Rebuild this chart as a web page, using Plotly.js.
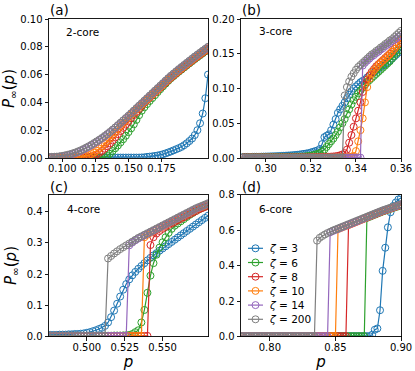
<!DOCTYPE html>
<html><head><meta charset="utf-8">
<script src="https://cdn.plot.ly/plotly-3.0.1.min.js"></script>
<style>html,body{margin:0;padding:0;background:#fff}#chart{width:415px;height:371px}</style>
</head><body><div id="chart"></div>
<script>
// ---- series meta ----
const zetas = [3, 6, 8, 10, 14, 200];
const colors = ['#1f77b4', '#2ca02c', '#d62728', '#ff7f0e', '#9467bd', '#7f7f7f'];
const panelLetters = ['(a)', '(b)', '(c)', '(d)'];
const coreLabels = ['2-core', '3-core', '4-core', '6-core'];

// ---- panel (a) 2-core ----
const pA = [0.090,0.092,0.094,0.096,0.098,0.100,0.102,0.104,0.106,0.108,
 0.110,0.112,0.114,0.116,0.118,0.120,0.122,0.124,0.126,0.128,
 0.130,0.132,0.134,0.136,0.138,0.140,0.142,0.144,0.146,0.148,
 0.150,0.152,0.154,0.156,0.158,0.160,0.162,0.164,0.166,0.168,
 0.170,0.172,0.174,0.176,0.178,0.180,0.182,0.184,0.186,0.188,
 0.190,0.192,0.194,0.196,0.198,0.200,0.202,0.204,0.206,0.208,0.210];
const a3 = [0.0003,0.0003,0.0003,0.0003,0.0003,0.0003,0.0003,0.0003,0.0003,0.0003,
 0.0003,0.0003,0.0003,0.0003,0.0003,0.0003,0.0003,0.0003,0.0003,0.0003,
 0.0003,0.0003,0.0003,0.0003,0.0003,0.0003,0.0003,0.0003,0.0003,0.0003,
 0.0003,0.0003,0.0003,0.0003,0.0003,0.0004,0.0005,0.0008,0.0010,0.0012,
 0.0015,0.0018,0.0022,0.0027,0.0033,0.0040,0.0047,0.0055,0.0063,0.0071,
 0.0080,0.0092,0.0106,0.0122,0.0140,0.0165,0.0200,0.0250,0.0320,0.0430,0.0600];
const a6 = [0.0002,0.0002,0.0002,0.0002,0.0002,0.0002,0.0002,0.0002,0.0002,0.0002,
 0.0002,0.0002,0.0002,0.0002,0.0002,0.0002,0.0002,0.0002,0.0002,0.0002,
 0.0002,0.0006,0.0015,0.0030,0.0050,0.0070,0.0090,0.0112,0.0135,0.0160,
 0.0186,0.0213,0.0242,0.0274,0.0308,0.0340,0.0365,0.0388,0.0410,0.0431,
 0.0452,0.0474,0.0495,0.0515,0.0535,0.0555,0.0573,0.0589,0.0605,0.0621,
 0.0636,0.0651,0.0666,0.0681,0.0696,0.0711,0.0725,0.0739,0.0753,0.0767,0.0781];
const a8 = [0.0002,
 0.0002,0.0002,0.0002,0.0002,0.0002,0.0002,0.0002,0.0003,0.0003,0.0003,
 0.0003,0.0003,0.0004,0.0005,0.0007,0.0010,0.0016,0.0025,0.0037,0.0051,
 0.0067,0.0085,0.0105,0.0126,0.0148,0.0171,0.0194,0.0217,0.0240,0.0263,
 0.0286,0.0309,0.0331,0.0352,0.0373,0.0398,0.0416,0.0434,0.0452,0.0470,
 0.0488,0.0506,0.0524,0.0542,0.0560,0.0577,0.0593,0.0609,0.0625,0.0640,
 0.0655,0.0670,0.0685,0.0700,0.0715,0.0729,0.0743,0.0757,0.0771,0.0785];
const a10 = [0.0003,
 0.0003,0.0003,0.0003,0.0003,0.0004,0.0004,0.0004,0.0005,0.0005,0.0006,
 0.0007,0.0008,0.0010,0.0014,0.0020,0.0028,0.0039,0.0052,0.0067,0.0084,
 0.0102,0.0121,0.0141,0.0162,0.0184,0.0206,0.0228,0.0250,0.0271,0.0292,
 0.0313,0.0331,0.0349,0.0367,0.0385,0.0403,0.0421,0.0439,0.0457,0.0475,
 0.0493,0.0511,0.0529,0.0547,0.0565,0.0582,0.0598,0.0614,0.0630,0.0645,
 0.0660,0.0675,0.0690,0.0705,0.0720,0.0734,0.0748,0.0762,0.0776,0.0790];
const a14 = [0.0005,
 0.0006,0.0007,0.0008,0.0010,0.0012,0.0015,0.0019,0.0024,0.0029,0.0035,
 0.0043,0.0051,0.0060,0.0070,0.0080,0.0091,0.0103,0.0115,0.0128,0.0141,
 0.0155,0.0170,0.0185,0.0201,0.0217,0.0234,0.0251,0.0268,0.0285,0.0302,
 0.0320,0.0338,0.0356,0.0374,0.0392,0.0410,0.0428,0.0446,0.0464,0.0482,
 0.0500,0.0518,0.0536,0.0554,0.0572,0.0589,0.0605,0.0621,0.0637,0.0652,
 0.0667,0.0682,0.0697,0.0712,0.0727,0.0741,0.0755,0.0769,0.0783,0.0797];
const a200 = [0.0007,
 0.0008,0.0009,0.0010,0.0012,0.0015,0.0019,0.0023,0.0028,0.0034,0.0040,
 0.0048,0.0056,0.0065,0.0075,0.0085,0.0096,0.0108,0.0120,0.0132,0.0145,
 0.0159,0.0173,0.0188,0.0204,0.0220,0.0237,0.0254,0.0271,0.0288,0.0305,
 0.0323,0.0341,0.0359,0.0377,0.0395,0.0413,0.0431,0.0449,0.0467,0.0485,
 0.0503,0.0521,0.0539,0.0557,0.0575,0.0592,0.0608,0.0624,0.0640,0.0655,
 0.0670,0.0685,0.0700,0.0715,0.0730,0.0744,0.0758,0.0772,0.0786,0.0800];

// ---- panel (b) 3-core ----
const pB = [0.290,0.291,0.292,0.293,0.294,0.295,0.296,0.297,0.298,0.299,
 0.300,0.301,0.302,0.303,0.304,0.305,0.306,0.307,0.308,0.309,
 0.310,0.311,0.312,0.313,0.314,0.315,0.316,0.317,0.318,0.319,
 0.320,0.321,0.322,0.323,0.324,0.325,0.326,0.327,0.328,0.329,
 0.330,0.331,0.332,0.333,0.334,0.335,0.336,0.337,0.338,0.339,
 0.340,0.341,0.342,0.343,0.344,0.345,0.346,0.347,0.348,0.349,
 0.350,0.351,0.352,0.353,0.354,0.355,0.356,0.357,0.358,0.359,0.360];
const b3 = [0.0015,0.0015,0.0016,0.0016,0.0017,0.0017,0.0018,0.0018,0.0019,0.0020,
 0.0021,0.0022,0.0023,0.0024,0.0025,0.0026,0.0028,0.0030,0.0032,0.0034,
 0.0036,0.0038,0.0040,0.0043,0.0046,0.0050,0.0055,0.0060,0.0065,0.0070,
 0.0080,0.0090,0.0100,0.0110,0.0130,0.0200,0.0300,0.0320,0.0340,0.0400,
 0.0480,0.0560,0.0650,0.0700,0.0750,0.0800,0.0860,0.0910,0.0960,0.1000,
 0.1030,0.1060,0.1090,0.1110,0.1130,0.1160,0.1180,0.1210,0.1230,0.1260,
 0.1280,0.1310,0.1330,0.1350,0.1380,0.1400,0.1430,0.1460,0.1490,0.1520,0.1550];
const b6 = [0.0010,0.0010,0.0010,0.0011,0.0011,0.0011,0.0012,0.0012,0.0012,0.0013,
 0.0013,0.0013,0.0014,0.0014,0.0014,0.0015,0.0015,0.0016,0.0016,0.0017,
 0.0017,0.0018,0.0018,0.0019,0.0019,0.0020,0.0020,0.0020,0.0025,0.0030,
 0.0035,0.0040,0.0050,0.0060,0.0070,0.0090,0.0120,0.0160,0.0200,0.0240,
 0.0280,0.0330,0.0380,0.0440,0.0500,0.0560,0.0630,0.0700,0.0770,0.0830,
 0.0880,0.0930,0.0970,0.1010,0.1050,0.1090,0.1120,0.1150,0.1180,0.1210,
 0.1240,0.1270,0.1300,0.1330,0.1360,0.1390,0.1430,0.1470,0.1510,0.1550,0.1600];
const b8 = [0.0008,0.0008,0.0008,0.0008,0.0008,0.0008,0.0008,0.0008,0.0008,0.0008,
 0.0008,0.0008,0.0008,0.0008,0.0008,0.0008,0.0008,0.0008,0.0008,0.0008,
 0.0009,0.0009,0.0009,0.0009,0.0009,0.0009,0.0009,0.0009,0.0009,0.0009,
 0.0010,0.0011,0.0012,0.0013,0.0014,0.0015,0.0016,0.0017,0.0018,0.0020,
 0.0022,0.0025,0.0030,0.0040,0.0050,0.0070,0.0120,0.0220,0.0330,0.0450,
 0.0570,0.0680,0.0800,0.0950,0.1060,0.1130,0.1190,0.1240,0.1280,0.1320,
 0.1350,0.1380,0.1410,0.1440,0.1470,0.1500,0.1530,0.1570,0.1610,0.1650,0.1690];
const b10 = [0.0006,0.0006,0.0006,0.0006,0.0006,0.0006,0.0006,0.0006,0.0006,0.0006,
 0.0006,0.0006,0.0006,0.0006,0.0006,0.0006,0.0006,0.0006,0.0006,0.0006,
 0.0006,0.0006,0.0006,0.0006,0.0006,0.0006,0.0006,0.0006,0.0006,0.0006,
 0.0007,0.0007,0.0007,0.0007,0.0007,0.0007,0.0007,0.0007,0.0007,0.0007,
 0.0008,0.0008,0.0009,0.0009,0.0010,0.0010,0.0010,0.0012,0.0020,0.0030,
 0.0100,0.0240,0.0400,0.0570,0.0800,0.1020,0.1140,0.1210,0.1260,0.1300,
 0.1340,0.1370,0.1400,0.1430,0.1460,0.1490,0.1530,0.1570,0.1610,0.1650,0.1700];
const b14 = [0.0005,0.0005,0.0005,0.0005,0.0005,0.0005,0.0005,0.0005,0.0005,0.0005,
 0.0005,0.0005,0.0005,0.0005,0.0005,0.0005,0.0005,0.0005,0.0005,0.0005,
 0.0005,0.0005,0.0005,0.0005,0.0005,0.0005,0.0005,0.0005,0.0005,0.0005,
 0.0005,0.0005,0.0005,0.0005,0.0005,0.0005,0.0005,0.0005,0.0005,0.0005,
 0.0006,0.0006,0.0006,0.0006,0.0006,0.0006,0.0006,0.0006,0.0006,0.0006,
 0.0006,0.0006,0.0006,0.1330,0.1370,0.1400,0.1430,0.1460,0.1480,0.1510,
 0.1530,0.1560,0.1580,0.1610,0.1630,0.1650,0.1680,0.1700,0.1720,0.1750,0.1770];
const b200 = [0.0005,0.0005,0.0005,0.0005,0.0005,0.0005,0.0005,0.0005,0.0005,0.0005,
 0.0005,0.0005,0.0005,0.0005,0.0005,0.0005,0.0005,0.0005,0.0005,0.0005,
 0.0005,0.0005,0.0005,0.0005,0.0005,0.0005,0.0005,0.0005,0.0005,0.0005,
 0.0005,0.0005,0.0005,0.0005,0.0005,0.0006,0.0006,0.0006,0.0006,0.0006,
 0.0006,0.0006,0.0006,0.0006,0.0006,0.0900,0.1020,0.1100,0.1170,0.1220,
 0.1270,0.1310,0.1340,0.1370,0.1400,0.1430,0.1460,0.1490,0.1510,0.1540,
 0.1560,0.1590,0.1610,0.1640,0.1660,0.1690,0.1710,0.1740,0.1770,0.1800,0.1830];

// ---- panel (c) 4-core ----
const pC = [0.474,0.476,0.478,0.480,0.482,0.484,0.486,0.488,0.490,0.492,
 0.494,0.496,0.498,0.500,0.502,0.504,0.506,0.508,0.510,0.512,
 0.514,0.516,0.518,0.520,0.522,0.524,0.526,0.528,0.530,0.532,
 0.534,0.536,0.538,0.540,0.542,0.544,0.546,0.548,0.550,0.552,
 0.554,0.556,0.558,0.560,0.562,0.564,0.566,0.568,0.570,0.572,
 0.574,0.576,0.578,0.580];
const c3 = [0.005,0.005,0.005,0.005,0.006,0.006,0.006,0.007,0.007,0.008,
 0.008,0.009,0.010,0.012,0.014,0.017,0.020,0.024,0.028,0.034,
 0.045,0.062,0.083,0.105,0.128,0.150,0.168,0.183,0.196,0.207,
 0.217,0.226,0.235,0.244,0.252,0.260,0.267,0.275,0.282,0.289,
 0.296,0.303,0.310,0.317,0.324,0.331,0.338,0.345,0.352,0.359,
 0.366,0.373,0.380,0.387];
const c6 = [0.001,0.001,0.001,0.001,0.001,0.001,0.001,0.001,0.001,0.001,
 0.0015,0.0015,0.0015,0.0015,0.0015,0.002,0.002,0.002,0.002,0.002,
 0.0025,0.0025,0.003,0.003,0.003,0.0035,0.004,0.005,0.008,0.014,
 0.020,0.045,0.085,0.140,0.195,0.235,0.262,0.285,0.302,0.318,
 0.332,0.345,0.355,0.362,0.369,0.376,0.383,0.390,0.396,0.402,
 0.407,0.412,0.416,0.420];
const c8 = [0.002,0.002,0.002,0.002,0.002,0.002,0.002,0.002,0.002,0.002,
 0.002,0.002,0.002,0.002,0.002,0.002,0.002,0.002,0.002,0.002,
 0.002,0.002,0.002,0.002,0.002,0.002,0.002,0.002,0.002,0.002,
 0.002,0.002,0.002,0.002,0.293,0.318,0.330,0.338,0.345,0.351,
 0.357,0.362,0.367,0.372,0.377,0.382,0.387,0.392,0.397,0.402,
 0.407,0.411,0.415,0.419];
const c10 = [0.002,0.002,0.002,0.002,0.002,0.002,0.002,0.002,0.002,0.002,
 0.002,0.002,0.002,0.002,0.002,0.002,0.002,0.002,0.002,0.002,
 0.002,0.002,0.002,0.002,0.002,0.002,0.002,0.002,0.002,0.002,
 0.002,0.002,0.318,0.326,0.332,0.338,0.343,0.348,0.353,0.358,
 0.363,0.368,0.373,0.378,0.383,0.388,0.393,0.398,0.403,0.408,
 0.412,0.416,0.420,0.424];
const c14 = [0.002,0.002,0.002,0.002,0.002,0.002,0.002,0.002,0.002,0.002,
 0.002,0.002,0.002,0.002,0.002,0.002,0.002,0.002,0.002,0.002,
 0.002,0.002,0.002,0.002,0.002,0.002,0.002,0.292,0.301,0.308,
 0.314,0.319,0.324,0.329,0.334,0.339,0.344,0.349,0.354,0.359,
 0.364,0.369,0.374,0.379,0.384,0.389,0.394,0.399,0.404,0.409,
 0.413,0.417,0.421,0.425];
const c200 = [0.003,0.003,0.003,0.003,0.003,0.003,0.003,0.003,0.003,0.003,
 0.003,0.003,0.003,0.003,0.003,0.003,0.003,0.003,0.003,0.003,
 0.250,0.258,0.266,0.273,0.280,0.286,0.292,0.298,0.304,0.310,
 0.316,0.321,0.326,0.331,0.336,0.341,0.346,0.351,0.356,0.361,
 0.366,0.371,0.376,0.381,0.386,0.391,0.396,0.401,0.406,0.411,
 0.415,0.419,0.423,0.427];

// ---- panel (d) 6-core ----
const pD = [0.778,0.780,0.782,0.784,0.786,0.788,0.790,0.792,0.794,0.796,
 0.798,0.800,0.802,0.804,0.806,0.808,0.810,0.812,0.814,0.816,
 0.818,0.820,0.822,0.824,0.826,0.828,0.830,0.832,0.834,0.836,
 0.838,0.840,0.842,0.844,0.846,0.848,0.850,0.852,0.854,0.856,
 0.858,0.860,0.862,0.864,0.866,0.868,0.870,0.872,0.874,0.876,
 0.878,0.880,0.882,0.884,0.886,0.888,0.890,0.892,0.894,0.896,
 0.898,0.900];
const d3 = [0.002,0.002,0.002,0.002,0.002,0.002,0.002,0.002,0.002,0.002,
 0.002,0.002,0.002,0.002,0.002,0.002,0.002,0.002,0.002,0.002,
 0.002,0.002,0.002,0.002,0.002,0.002,0.002,0.002,0.002,0.002,
 0.002,0.002,0.002,0.002,0.002,0.002,0.002,0.002,0.002,0.002,
 0.002,0.002,0.002,0.002,0.002,0.002,0.002,0.002,0.002,0.002,
 0.010,0.038,0.045,0.148,0.370,0.500,0.615,0.700,0.735,0.755,
 0.772,0.780];
const d6 = [0.002,0.002,0.002,0.002,0.002,0.002,0.002,0.002,0.002,0.002,
 0.002,0.002,0.002,0.002,0.002,0.002,0.002,0.002,0.002,0.002,
 0.002,0.002,0.002,0.002,0.002,0.002,0.002,0.002,0.002,0.002,
 0.002,0.002,0.002,0.002,0.002,0.002,0.002,0.002,0.002,0.002,
 0.002,0.002,0.002,0.002,0.002,0.002,0.002,0.002,0.668,0.674,
 0.680,0.686,0.692,0.698,0.704,0.709,0.714,0.719,0.724,0.729,
 0.734,0.739];
const d8 = [0.002,0.002,0.002,0.002,0.002,0.002,0.002,0.002,0.002,0.002,
 0.002,0.002,0.002,0.002,0.002,0.002,0.002,0.002,0.002,0.002,
 0.002,0.002,0.002,0.002,0.002,0.002,0.002,0.002,0.002,0.002,
 0.002,0.002,0.002,0.002,0.002,0.002,0.002,0.002,0.002,0.002,
 0.002,0.628,0.634,0.640,0.646,0.652,0.658,0.664,0.670,0.676,
 0.682,0.688,0.694,0.700,0.706,0.711,0.716,0.721,0.726,0.731,
 0.736,0.741];
const d10 = [0.002,0.002,0.002,0.002,0.002,0.002,0.002,0.002,0.002,0.002,
 0.002,0.002,0.002,0.002,0.002,0.002,0.002,0.002,0.002,0.002,
 0.002,0.002,0.002,0.002,0.002,0.002,0.002,0.002,0.002,0.002,
 0.002,0.002,0.002,0.002,0.002,0.002,0.002,0.605,0.611,0.617,
 0.623,0.629,0.635,0.641,0.647,0.653,0.659,0.665,0.671,0.677,
 0.683,0.689,0.695,0.701,0.707,0.712,0.717,0.722,0.727,0.732,
 0.737,0.742];
const d14 = [0.002,0.002,0.002,0.002,0.002,0.002,0.002,0.002,0.002,0.002,
 0.002,0.002,0.002,0.002,0.002,0.002,0.002,0.002,0.002,0.002,
 0.002,0.002,0.002,0.002,0.002,0.002,0.002,0.002,0.002,0.002,
 0.002,0.002,0.002,0.002,0.587,0.594,0.600,0.606,0.612,0.618,
 0.624,0.630,0.636,0.642,0.648,0.654,0.660,0.666,0.672,0.678,
 0.684,0.690,0.696,0.702,0.708,0.713,0.718,0.723,0.728,0.733,
 0.738,0.743];
const d200 = [0.002,0.002,0.002,0.002,0.002,0.002,0.002,0.002,0.002,0.002,
 0.002,0.002,0.002,0.002,0.002,0.002,0.002,0.002,0.002,0.002,
 0.002,0.002,0.002,0.002,0.002,0.002,0.002,0.002,0.002,0.540,
 0.556,0.566,0.575,0.583,0.590,0.597,0.603,0.609,0.615,0.621,
 0.627,0.633,0.639,0.645,0.651,0.657,0.663,0.669,0.675,0.681,
 0.687,0.693,0.699,0.705,0.711,0.716,0.721,0.726,0.731,0.736,
 0.741,0.746];

// ---- tick values ----
const xticksA = [0.100, 0.125, 0.150, 0.175];
const yticksA = [0, 0.02, 0.04, 0.06, 0.08, 0.10];
const xticksB = [0.30, 0.32, 0.34, 0.36];
const yticksB = [0, 0.05, 0.10, 0.15, 0.20];
const xticksC = [0.500, 0.525, 0.550];
const yticksC = [0, 0.1, 0.2, 0.3, 0.4];
const xticksD = [0.80, 0.85, 0.90];
const yticksD = [0, 0.2, 0.4, 0.6, 0.8];

// ---- build ----
const W = 415, H = 371;
const FONT = 'DejaVu Sans';
const traces = [];
function addPanel(p, series, xa, ya) {
  series.forEach((y, i) => traces.push({
    x: p, y: y, xaxis: xa, yaxis: ya, type: 'scatter', mode: 'lines+markers',
    name: 'ζ = ' + zetas[i], showlegend: false, cliponaxis: true,
    line: {color: colors[i], width: 1.2},
    marker: {symbol: 'circle-open', size: 7, color: colors[i], line: {width: 1, color: colors[i]}}
  }));
}
addPanel(pA, [a3, a6, a8, a10, a14, a200], 'x', 'y');
addPanel(pB, [b3, b6, b8, b10, b14, b200], 'x2', 'y2');
addPanel(pC, [c3, c6, c8, c10, c14, c200], 'x3', 'y3');
addPanel(pD, [d3, d6, d8, d10, d14, d200], 'x4', 'y4');

const px = v => v / W, py = v => 1 - v / H;
const colL = [px(49), px(208)], colR = [px(241), px(401)];
const rowT = [py(158), py(19)], rowB = [py(336.5), py(194.5)];

function axis(anchor, domain, range, tickvals, fmt, isX, title) {
  const a = {anchor, domain, range, tickmode: 'array', tickvals, tickformat: fmt,
    showline: true, mirror: true, linecolor: '#000', linewidth: 0.9,
    ticks: 'outside', ticklen: 3.5, tickwidth: 0.9, tickcolor: '#000',
    showgrid: false, zeroline: false, fixedrange: true,
    ticklabelstandoff: isX ? -2 : 0,
    tickfont: {family: FONT, size: 10, color: '#000'}};
  if (title) a.title = title;
  return a;
}
const yTitle = {text: '<i>P</i><sub>∞</sub>(<i>p</i>)', font: {family: FONT, size: 15, color: '#000'}, standoff: 6};
const xTitle = {text: '<i>p</i>', font: {family: FONT, size: 15, color: '#000'}, standoff: 0};

const annotations = [];
const shapes = [];
const letterPos = [[47.5, 10.5], [239.5, 10.5], [47.5, 186.5], [239.5, 186.5]];
const corePos = [[63.5, 32], [256.5, 31.5], [64.5, 208.5], [256.5, 208.5]];
panelLetters.forEach((t, i) => annotations.push({text: t, xref: 'paper', yref: 'paper',
  x: px(letterPos[i][0]), y: py(letterPos[i][1]), xanchor: 'left', yanchor: 'middle',
  showarrow: false, font: {family: FONT, size: 13.5, color: '#000'}}));
coreLabels.forEach((t, i) => annotations.push({text: t, xref: 'paper', yref: 'paper',
  x: px(corePos[i][0]), y: py(corePos[i][1]), xanchor: 'left', yanchor: 'middle',
  showarrow: false, font: {family: FONT, size: 10.5, color: '#000'}}));

// legend drawn inside panel (d)
zetas.forEach((z, i) => {
  const yy = 248.3 + 14.2 * i;
  shapes.push({type: 'line', xref: 'paper', yref: 'paper', x0: px(248), x1: px(263), y0: py(yy), y1: py(yy),
    line: {color: colors[i], width: 1.2}});
  shapes.push({type: 'circle', xref: 'paper', yref: 'paper', x0: px(252), x1: px(259), y0: py(yy + 3.5), y1: py(yy - 3.5),
    line: {color: colors[i], width: 1}});
  annotations.push({text: '<i>ζ</i> = ' + z, xref: 'paper', yref: 'paper', x: px(266.5), y: py(yy),
    xanchor: 'left', yanchor: 'middle', showarrow: false, font: {family: FONT, size: 10.5, color: '#000'}});
});

const layout = {
  width: W, height: H, margin: {l: 0, r: 0, t: 0, b: 0},
  paper_bgcolor: '#fff', plot_bgcolor: '#fff', showlegend: false,
  font: {family: FONT, color: '#000'},
  xaxis: axis('y', colL, [0.09, 0.21], xticksA, '.3f', true),
  yaxis: axis('x', rowT, [0, 0.1], yticksA, '.2f', false, yTitle),
  xaxis2: axis('y2', colR, [0.289, 0.36], xticksB, '.2f', true),
  yaxis2: axis('x2', rowT, [0, 0.2], yticksB, '.2f', false),
  xaxis3: axis('y3', colL, [0.475, 0.58], xticksC, '.3f', true, xTitle),
  yaxis3: axis('x3', rowB, [0, 0.455], yticksC, '.1f', false, yTitle),
  xaxis4: axis('y4', colR, [0.778, 0.90], xticksD, '.2f', true, xTitle),
  yaxis4: axis('x4', rowB, [0, 0.8], yticksD, '.1f', false),
  annotations, shapes
};
Plotly.newPlot('chart', traces, layout, {displayModeBar: false, staticPlot: true});
</script></body></html>
